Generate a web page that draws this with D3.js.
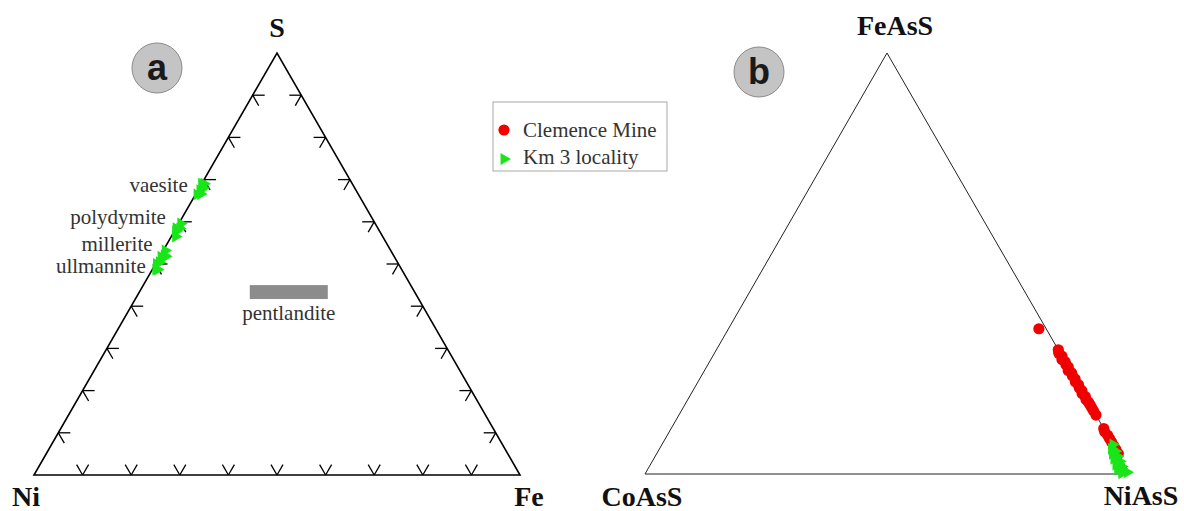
<!DOCTYPE html>
<html>
<head>
<meta charset="utf-8">
<script src="https://cdn.jsdelivr.net/npm/d3@7"></script>
<style>
  html, body { margin: 0; padding: 0; background: #fff; }
  svg { display: block; }
</style>
</head>
<body>
<svg id="chart" width="1184" height="511"></svg>
<script>
// ---------------- DATA ----------------
const panelAVertices = ["Ni", "Fe", "S"];          // bottom-left, bottom-right, top
const panelBVertices = ["CoAsS", "NiAsS", "FeAsS"]; // bottom-left, bottom-right, top
const panelBadges = ["a", "b"];
const tickValues = [10, 20, 30, 40, 50, 60, 70, 80, 90];
const legendLabels = ["Clemence Mine", "Km 3 locality"];

// Panel a: Km 3 locality analyses, [Ni, Fe, S] (at.%)
const km3Vaesite    = [[30.5, 0.5, 69.0], [31.2, 0.8, 68.0], [32.1, 0.4, 67.5], [32.4, 1.0, 66.6], [33.2, 0.3, 66.5], [31.0, 0.0, 69.0]];
const km3Polydymite = [[40.0, 0.4, 59.6], [40.8, 0.8, 58.4], [42.0, 0.3, 57.7], [42.6, 0.9, 56.5], [41.5, 0.0, 58.5]];
const km3Millerite  = [[46.4, 0.4, 53.2], [47.2, 0.8, 52.0], [48.0, 0.3, 51.7], [47.0, 1.2, 51.8]];
const km3Ullmannite = [[49.0, 0.6, 50.4], [49.8, 0.2, 50.0], [50.6, 0.7, 48.7], [50.2, 1.1, 48.7]];
const mineralNames  = ["vaesite", "polydymite", "millerite", "ullmannite"];
const mineralLabelAt = [[32.2, 0.0, 67.8], [42.0, 0.0, 58.0], [47.5, 0.0, 52.5], [50.3, 0.0, 49.7]];
// Pentlandite field: two opposite corners, [Ni, Fe, S]
const pentlanditeCorners = [[33.1, 21.9, 45.0], [18.7, 39.6, 41.7]];
const pentlanditeName = "pentlandite";

// Panel b: [CoAsS, NiAsS, FeAsS] (mol.%)
const clemenceMine = [
  [1.5, 64.0, 34.5],
  [0.0, 70.5, 29.5], [0.3, 71.0, 28.7], [0.0, 72.0, 28.0], [0.4, 72.4, 27.2], [0.0, 73.3, 26.7],
  [0.2, 73.8, 26.0], [0.0, 74.6, 25.4], [0.4, 75.0, 24.6], [0.0, 76.0, 24.0], [0.2, 76.5, 23.3],
  [0.0, 77.4, 22.6], [0.3, 77.8, 21.9], [0.0, 78.8, 21.2], [0.2, 79.3, 20.5], [0.0, 80.2, 19.8],
  [0.3, 80.6, 19.1], [0.0, 81.6, 18.4], [0.2, 82.1, 17.7], [0.0, 83.0, 17.0], [0.0, 83.6, 16.4],
  [0.0, 84.3, 15.7], [0.0, 85.0, 15.0], [0.0, 86.0, 14.0],
  [0.0, 89.2, 10.8], [0.2, 89.8, 10.0], [0.0, 90.8, 9.2], [0.0, 91.6, 8.4], [0.0, 92.4, 7.6],
  [0.0, 93.3, 6.7], [0.0, 94.2, 5.8], [0.0, 95.2, 4.8]
];
const km3Locality = [
  [0.0, 93.0, 7.0], [0.8, 93.2, 6.0], [0.3, 94.3, 5.4], [1.2, 94.0, 4.8], [0.5, 95.3, 4.2],
  [1.5, 94.9, 3.6], [0.6, 96.4, 3.0], [1.8, 96.0, 2.2], [0.8, 97.4, 1.8], [2.0, 96.9, 1.1],
  [1.0, 98.2, 0.8], [0.4, 99.2, 0.4], [1.6, 98.2, 0.2]
];

// ---------------- DRAW ----------------
const svg = d3.select("#chart");
const RED = "#f00000", GREEN = "#19e619";

function makeTernary(left, right, apexX, apexY, baseY) {
  const xs = d3.scaleLinear().domain([0, 100]).range([left, right]);
  const ys = d3.scaleLinear().domain([0, 100]).range([baseY, apexY]);
  const shift = apexX - (left + right) / 2;
  return ([a, b, c]) => [xs(b + c / 2) + shift * c / 100, ys(c)];
}

const projA = makeTernary(34, 520, 277, 53, 475);
const projB = makeTernary(645, 1130, 887, 53, 474);

const triSym = d3.symbol().type(d3.symbolTriangle).size(62);
function drawTriangles(g, data, proj) {
  g.selectAll(null).data(data).enter().append("path")
    .attr("d", triSym)
    .attr("transform", d => { const p = proj(d); return `translate(${p[0]},${p[1]}) rotate(90)`; })
    .attr("fill", GREEN);
}
function drawDots(g, data, proj) {
  g.selectAll(null).data(data).enter().append("circle")
    .attr("cx", d => proj(d)[0]).attr("cy", d => proj(d)[1])
    .attr("r", 5.6).attr("fill", RED);
}

// ---- Panel a ----
const ga = svg.append("g");
const outlineA = [[100, 0, 0], [0, 100, 0], [0, 0, 100]].map(projA);
ga.append("path").attr("d", d3.line()(outlineA) + "Z")
  .attr("fill", "none").attr("stroke", "#000").attr("stroke-width", 1.6).attr("stroke-linejoin", "miter");

// ticks
const L = 12, c60 = Math.cos(Math.PI / 3), s60 = Math.sin(Math.PI / 3);
const tickArms = [];
tickValues.forEach(f => {
  const pb = projA([100 - f, f, 0]);
  tickArms.push([pb, [pb[0] - L * c60, pb[1] - L * s60]], [pb, [pb[0] + L * c60, pb[1] - L * s60]]);
  const pl = projA([100 - f, 0, f]);
  tickArms.push([pl, [pl[0] + L, pl[1]]], [pl, [pl[0] + L * c60, pl[1] + L * s60]]);
  const pr = projA([0, 100 - f, f]);
  tickArms.push([pr, [pr[0] - L, pr[1]]], [pr, [pr[0] - L * c60, pr[1] + L * s60]]);
});
ga.selectAll(null).data(tickArms).enter().append("path")
  .attr("d", d => d3.line()(d)).attr("stroke", "#000").attr("stroke-width", 1.3).attr("fill", "none");

// pentlandite field
const pc1 = projA(pentlanditeCorners[0]), pc2 = projA(pentlanditeCorners[1]);
ga.append("rect")
  .attr("x", Math.min(pc1[0], pc2[0])).attr("y", Math.min(pc1[1], pc2[1]))
  .attr("width", Math.abs(pc2[0] - pc1[0])).attr("height", Math.abs(pc2[1] - pc1[1]))
  .attr("fill", "#8c8c8c");
ga.append("text")
  .attr("x", (pc1[0] + pc2[0]) / 2).attr("y", Math.max(pc1[1], pc2[1]) + 21)
  .attr("text-anchor", "middle").attr("font-family", "'Liberation Serif', 'Times New Roman', serif")
  .attr("font-size", 21).attr("fill", "#333").text(pentlanditeName);

// green data
[km3Vaesite, km3Polydymite, km3Millerite, km3Ullmannite].forEach(set => drawTriangles(ga, set, projA));

// mineral labels
const labelOffsets = [[-11, 3], [-9, -6], [-9, -2], [-9, 8]];
mineralNames.forEach((name, i) => {
  const p = projA(mineralLabelAt[i]);
  ga.append("text").attr("x", p[0] + labelOffsets[i][0]).attr("y", p[1] + labelOffsets[i][1])
    .attr("text-anchor", "end").attr("font-family", "'Liberation Serif', 'Times New Roman', serif")
    .attr("font-size", 21).attr("fill", "#333").text(name);
});

// ---- Panel b ----
const gb = svg.append("g");
const outlineB = [[100, 0, 0], [0, 100, 0], [0, 0, 100]].map(projB);
gb.append("path").attr("d", d3.line()(outlineB) + "Z")
  .attr("fill", "none").attr("stroke", "#222").attr("stroke-width", 1);
drawDots(gb, clemenceMine, projB);
drawTriangles(gb, km3Locality, projB);

// ---- vertex labels ----
function vertexLabel(txt, x, y) {
  svg.append("text").attr("x", x).attr("y", y).attr("text-anchor", "middle")
    .attr("font-family", "'Liberation Serif', 'Times New Roman', serif").attr("font-weight", "bold")
    .attr("font-size", 28).attr("fill", "#111").text(txt);
}
const vA = [[100, 0, 0], [0, 100, 0], [0, 0, 100]].map(projA);
const vB = [[100, 0, 0], [0, 100, 0], [0, 0, 100]].map(projB);
vertexLabel(panelAVertices[0], vA[0][0] - 8, vA[0][1] + 31);
vertexLabel(panelAVertices[1], vA[1][0] + 9, vA[1][1] + 31);
vertexLabel(panelAVertices[2], vA[2][0], vA[2][1] - 16);
vertexLabel(panelBVertices[0], vB[0][0] - 3, vB[0][1] + 32);
vertexLabel(panelBVertices[1], vB[1][0] + 11, vB[1][1] + 31);
vertexLabel(panelBVertices[2], vB[2][0] + 8, vB[2][1] - 18);

// ---- badges ----
[[157, 68], [759, 72]].forEach((c, i) => {
  svg.append("circle").attr("cx", c[0]).attr("cy", c[1]).attr("r", 25)
    .attr("fill", "#c4c4c4").attr("stroke", "#8a8a8a").attr("stroke-width", 1);
  svg.append("text").attr("x", c[0]).attr("y", c[1] + 12).attr("text-anchor", "middle")
    .attr("font-family", "'Liberation Sans', Arial, sans-serif").attr("font-weight", "bold")
    .attr("font-size", 36).attr("fill", "#1a1a1a").text(panelBadges[i]);
});

// ---- legend ----
const lg = svg.append("g").attr("transform", "translate(493,102)");
lg.append("rect").attr("width", 174).attr("height", 69).attr("fill", "#fff")
  .attr("stroke", "#a8a8a8").attr("stroke-width", 1);
lg.append("circle").attr("cx", 11).attr("cy", 28).attr("r", 5.6).attr("fill", RED);
lg.append("path").attr("d", triSym).attr("transform", "translate(11,57) rotate(90)").attr("fill", GREEN);
legendLabels.forEach((t, i) => {
  lg.append("text").attr("x", 30).attr("y", 35 + i * 27)
    .attr("font-family", "'Liberation Serif', 'Times New Roman', serif")
    .attr("font-size", 21).attr("fill", "#333").text(t);
});
</script>
</body>
</html>
